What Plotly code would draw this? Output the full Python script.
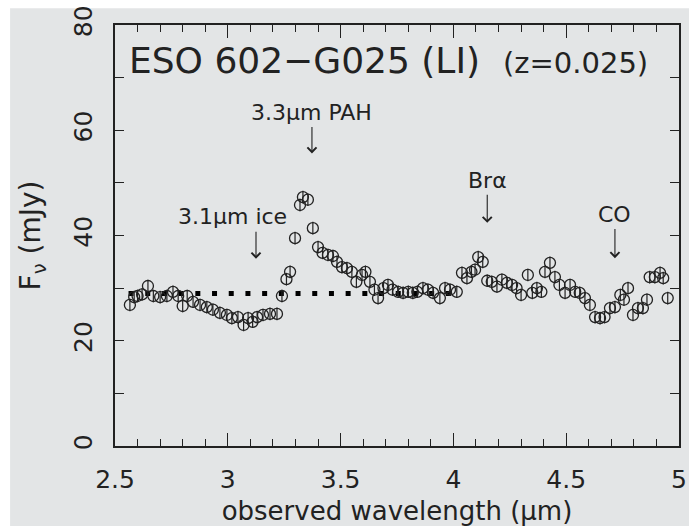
import plotly.graph_objects as go

# observed wavelength (micron) and flux density (mJy)
wavelength = [2.566, 2.585, 2.60, 2.62, 2.646, 2.67, 2.70, 2.73, 2.757, 2.78, 2.80, 2.82, 2.846, 2.877,
              2.907, 2.934, 2.965, 2.996, 3.018, 3.045, 3.07, 3.09, 3.11, 3.13, 3.156, 3.187, 3.218,
              3.24, 3.26, 3.276, 3.298, 3.32, 3.333, 3.355, 3.377, 3.40, 3.42, 3.444, 3.466, 3.484,
              3.506, 3.528, 3.55, 3.57, 3.595, 3.61, 3.63, 3.65, 3.666, 3.69, 3.71, 3.73, 3.755,
              3.777, 3.80, 3.82, 3.84, 3.865, 3.887, 3.91, 3.94, 3.963, 3.985, 4.015, 4.038, 4.06,
              4.08, 4.096, 4.11, 4.13, 4.15, 4.17, 4.193, 4.215, 4.237, 4.26, 4.28, 4.30, 4.33,
              4.35, 4.37, 4.39, 4.406, 4.428, 4.45, 4.47, 4.495, 4.517, 4.54, 4.56, 4.583, 4.605,
              4.628, 4.65, 4.67, 4.694, 4.716, 4.74, 4.756, 4.774, 4.796, 4.818, 4.84, 4.858, 4.87,
              4.893, 4.916, 4.93, 4.95]
flux = [26.8, 28.3, 28.5, 28.8, 30.4, 28.5, 28.3, 28.5, 29.3, 28.5, 26.6, 28.5, 27.4, 26.8,
        26.4, 25.9, 25.3, 24.9, 24.3, 24.5, 23.0, 24.3, 23.6, 24.5, 24.9, 25.1, 25.1,
        28.5, 31.7, 33.1, 39.5, 45.8, 47.3, 46.8, 41.4, 37.8, 36.7, 36.3, 36.1, 35.0,
        34.0, 33.8, 33.1, 31.2, 32.5, 33.1, 31.2, 29.7, 28.1, 30.0, 30.6, 29.7, 29.3,
        29.1, 29.3, 29.1, 29.3, 30.0, 29.7, 29.1, 28.1, 30.0, 29.7, 29.3, 32.9, 31.9,
        33.1, 33.5, 35.9, 35.0, 31.4, 31.2, 30.3, 31.6, 31.0, 30.6, 30.0, 28.7, 32.5,
        29.1, 30.0, 29.3, 33.1, 34.8, 32.1, 30.6, 29.1, 30.6, 29.3, 29.1, 28.1, 26.8,
        24.5, 24.3, 24.5, 26.2, 26.4, 28.7, 27.8, 30.0, 24.9, 26.2, 26.2, 27.8, 32.1,
        32.1, 32.9, 31.9, 28.1]
flux_err = 1.2

# continuum (dotted line)
cont_x = [2.56, 4.0]
cont_y = [29.0, 29.0]

# features marked with arrows
feat_text = ["3.1\u03bcm ice", "3.3\u03bcm PAH", "Br\u03b1", "CO"]
feat_tx = [3.023, 3.377, 4.14, 4.716]      # label centre
feat_ty = [43.7, 63.3, 50.4, 43.9]
feat_ax = [3.125, 3.373, 4.15, 4.716]      # arrow position
feat_tail = [41.0, 61.0, 47.6, 41.0]
feat_head = [35.6, 55.6, 42.4, 35.7]

xtick_vals = [2.5, 3, 3.5, 4, 4.5, 5]
xtick_text = ["2.5", "3", "3.5", "4", "4.5", "5"]
ytick_vals = [0, 20, 40, 60, 80]
ytick_text = ["0", "20", "40", "60", "80"]

FONT = "DejaVu Sans"
INK = "#222222"
BG = "#e3e5e6"

fig = go.Figure()
fig.add_trace(go.Scatter(
    x=cont_x, y=cont_y, mode="lines",
    line=dict(color="black", width=5, dash="5px,11.7px"),
    hoverinfo="skip", showlegend=False))
fig.add_trace(go.Scatter(
    x=wavelength, y=flux, mode="markers",
    marker=dict(symbol="circle-open", size=11, color=INK, line=dict(width=1.3, color=INK)),
    error_y=dict(type="constant", value=flux_err, width=0, thickness=1.2, color=INK),
    showlegend=False))

for t, tx, ty, ax, tail, head in zip(feat_text, feat_tx, feat_ty, feat_ax, feat_tail, feat_head):
    if abs(tx - ax) < 0.02:
        # label sits directly above its arrow: one annotation draws both
        fig.add_annotation(x=ax, y=head, ax=ax, ay=ty, axref="x", ayref="y", text=t,
                           showarrow=True, arrowhead=4, arrowsize=1.6, arrowwidth=1.1,
                           arrowcolor=INK, standoff=0, startstandoff=0,
                           font=dict(family=FONT, size=22, color=INK))
    else:
        fig.add_annotation(x=tx, y=ty, text=t, showarrow=False,
                           font=dict(family=FONT, size=22, color=INK))
        fig.add_annotation(x=ax, y=head, ax=ax, ay=tail, axref="x", ayref="y", text="",
                           showarrow=True, arrowhead=4, arrowsize=1.6, arrowwidth=1.1,
                           arrowcolor=INK, standoff=0, startstandoff=0)

fig.add_annotation(x=3.34, y=73.2, text="ESO 602\u2212G025 (LI)", showarrow=False,
                   font=dict(family=FONT, size=36, color=INK))
fig.add_annotation(x=4.539, y=72.8, text="(z=0.025)", showarrow=False,
                   font=dict(family=FONT, size=29, color=INK))

# white strips along top and left edges of the page
fig.add_shape(type="rect", xref="paper", yref="paper", x0=-0.3, x1=1.1, y0=1.04, y1=1.2,
              fillcolor="white", line_width=0, layer="below")
fig.add_shape(type="rect", xref="paper", yref="paper", x0=-0.3, x1=-0.186, y0=-0.3, y1=1.2,
              fillcolor="white", line_width=0, layer="below")

fig.update_layout(
    width=689, height=526,
    margin=dict(l=115, r=10, t=25, b=80),
    paper_bgcolor=BG, plot_bgcolor=BG,
    font=dict(family=FONT, color=INK),
    xaxis=dict(range=[2.5, 5], tickvals=xtick_vals, ticktext=xtick_text, automargin=False,
               ticks="inside", ticklen=13, tickwidth=1.2, tickcolor=INK,
               minor=dict(dtick=0.1, ticks="inside", ticklen=7, tickwidth=1.2, tickcolor=INK),
               showline=True, linecolor=INK, linewidth=1.5, mirror="ticks",
               showgrid=False, zeroline=False,
               tickfont=dict(family=FONT, size=25, color=INK), ticklabelstandoff=10,
               title=dict(text="observed wavelength (\u03bcm)", standoff=10,
                          font=dict(family=FONT, size=26, color=INK))),
    yaxis=dict(range=[0, 80], tickvals=ytick_vals, ticktext=ytick_text, automargin=False,
               ticks="inside", ticklen=9, tickwidth=1.2, tickcolor=INK,
               minor=dict(dtick=10, ticks="inside", ticklen=9, tickwidth=1.2, tickcolor=INK),
               showline=True, linecolor=INK, linewidth=1.5, mirror="ticks",
               showgrid=False, zeroline=False, tickangle=-90,
               tickfont=dict(family=FONT, size=25, color=INK), ticklabelstandoff=11,
               title=dict(text="F<sub>\u03bd</sub> (mJy)", standoff=20,
                          font=dict(family=FONT, size=28, color=INK))),
)

fig.write_html("out.html")
